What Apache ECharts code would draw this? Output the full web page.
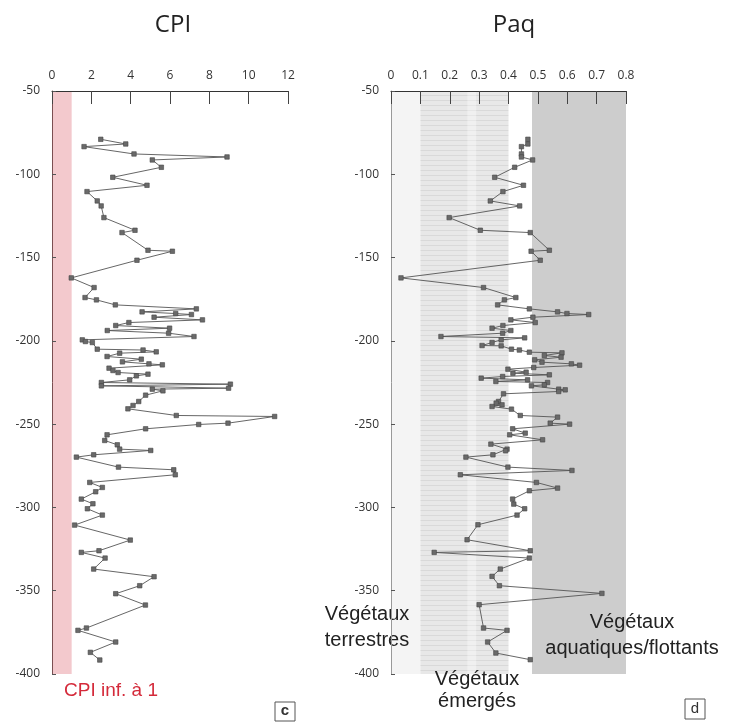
<!DOCTYPE html>
<html>
<head>
<meta charset="utf-8">
<script src="https://cdn.jsdelivr.net/npm/echarts/dist/echarts.min.js"></script>
<style>html,body{margin:0;padding:0;background:#fff}#c{width:740px;height:724px}</style>
</head>
<body>
<div id="c"></div>
<script>
// ---- data ----
const cpiDepth = [-79,-81.8,-83.4,-87.8,-89.6,-91.4,-95.8,-101.8,-106.6,-110.4,-116,-119,-126,-133.6,-135,-145.6,-146.2,-151.6,-162.2,-168,-174,-175.4,-178.4,-180.8,-182.6,-183.6,-184.2,-185.8,-187.4,-189,-190.8,-192.4,-193.8,-195.4,-197.4,-199.4,-200.4,-201,-205,-205.5,-206.6,-207.4,-209.4,-211,-212.6,-213.8,-214.4,-216.4,-217.8,-219,-220,-221,-223.4,-225,-226,-227,-228.4,-229,-230,-232.6,-236.4,-238.8,-240.8,-244.8,-245.4,-249.4,-250.2,-252.8,-256.4,-259.8,-262.4,-265,-265.8,-268.4,-269.8,-275.8,-277.4,-280.4,-285,-288,-290.6,-295,-297.8,-300.8,-304.6,-310.6,-319.6,-326,-327,-330.4,-337,-341.6,-347,-351.8,-358.6,-372.4,-373.8,-380.8,-387,-391.6];
const cpiValue = [2.48,3.75,1.63,4.17,8.9,5.1,5.56,3.09,4.83,1.78,2.3,2.5,2.64,4.22,3.56,4.88,6.12,4.32,0.98,2.14,1.68,2.26,3.22,7.34,4.58,6.29,7.09,5.19,7.65,3.91,3.24,5.98,2.81,5.93,7.22,1.54,1.7,2.05,2.3,4.63,5.3,3.44,2.8,4.54,3.58,4.93,5.61,2.9,3.1,3.36,4.88,4.29,3.95,2.51,9.07,2.51,8.98,5.1,5.64,4.76,4.41,4.12,3.86,6.32,11.32,8.95,7.46,4.76,2.8,2.68,3.32,3.44,5.02,2.12,1.24,3.38,6.19,6.27,1.92,2.56,2.22,1.49,2.08,1.8,2.56,1.15,3.98,2.39,1.49,2.7,2.12,5.19,4.46,3.24,4.75,1.75,1.32,3.24,1.95,2.43];
const paqDepth = [-79,-81.8,-83.4,-87.8,-89.6,-91.4,-95.8,-101.8,-106.6,-110.4,-116,-119,-126,-133.6,-135,-145.6,-146.2,-151.6,-162.2,-168,-174,-175.4,-178.4,-180.8,-182.6,-183.6,-184.2,-185.8,-187.4,-189,-190.8,-192.4,-193.8,-195.4,-197.4,-198.2,-199.4,-201,-202.8,-203,-205,-205.5,-206.8,-207.2,-208.8,-209.8,-211.4,-212.8,-213.8,-214.6,-216,-217,-218.8,-219.4,-220.4,-221.4,-222.4,-223.4,-224.4,-225,-226.4,-227,-229,-229.4,-230.4,-231.8,-236.4,-237.4,-238.4,-239.4,-241,-244.8,-245.8,-249.4,-250,-252.8,-255.4,-256.4,-259.4,-262,-265,-266,-268.4,-269.8,-275.8,-277.8,-280.4,-285,-288.4,-290,-295,-298,-300.8,-304.6,-310.4,-319.4,-326,-327,-330.4,-337,-341.4,-347,-351.6,-358.4,-372.4,-373.8,-380.8,-387.4,-391.4];
const paqValue = [0.466,0.466,0.444,0.444,0.444,0.482,0.421,0.353,0.451,0.381,0.338,0.438,0.198,0.304,0.474,0.539,0.477,0.508,0.034,0.315,0.425,0.386,0.363,0.471,0.567,0.599,0.673,0.483,0.408,0.491,0.381,0.344,0.408,0.38,0.17,0.455,0.375,0.344,0.31,0.375,0.41,0.437,0.471,0.582,0.522,0.579,0.489,0.514,0.614,0.642,0.486,0.398,0.46,0.415,0.539,0.38,0.307,0.465,0.357,0.533,0.522,0.478,0.571,0.593,0.571,0.383,0.366,0.358,0.378,0.344,0.41,0.44,0.567,0.542,0.608,0.414,0.457,0.404,0.516,0.34,0.395,0.39,0.347,0.255,0.398,0.616,0.236,0.495,0.567,0.471,0.414,0.418,0.455,0.429,0.296,0.259,0.474,0.147,0.471,0.372,0.344,0.369,0.718,0.3,0.315,0.395,0.329,0.357,0.474];
const depthTicks = [-400,-50];
const cpiTicks = [0,12];
const paqTicks = [0,0.8];
const cpiThreshold = [0,1];
const paqZones = [[0,0.1],[0.1,0.4],[0.48,0.8]];

// ---- pattern for "émergés" zone ----
const pc = document.createElement('canvas');
pc.width = 8; pc.height = 5;
const pctx = pc.getContext('2d');
pctx.fillStyle = '#e8e8e8'; pctx.fillRect(0,0,8,5);
pctx.fillStyle = '#d9d9d9'; pctx.fillRect(0,0,8,1);

const chart = echarts.init(document.getElementById('c'), null, {renderer:'canvas'});
const lblFont = {fontFamily:'Open Sans', fontSize:12, color:'#333'};
function xAx(idx, mn, mx, iv){
  return {gridIndex:idx, type:'value', position:'top', min:mn, max:mx, interval:iv, z:10,
    axisLine:{show:true, lineStyle:{color:'#333', width:1}},
    axisTick:{show:true, inside:true, length:13, lineStyle:{color:'#444'}},
    axisLabel:Object.assign({margin:9}, lblFont),
    splitLine:{show:false}};
}
function yAx(idx, col){
  return {gridIndex:idx, type:'value', min:depthTicks[0], max:depthTicks[1], interval:50, z:10,
    axisLine:{show:true, lineStyle:{color:col, width:1}},
    axisTick:{show:true, inside:true, length:4, lineStyle:{color:'#555'}},
    axisLabel:Object.assign({margin:12}, lblFont),
    splitLine:{show:false}};
}
const lineStyle = {color:'#555', width:0.9};
const itemStyle = {color:'#6a6a6a', borderColor:'#444', borderWidth:0.6};

chart.setOption({
  animation:false,
  grid:[
    {left:52, top:91, width:236, height:583},
    {left:391, top:91, width:235, height:583}
  ],
  xAxis:[xAx(0,cpiTicks[0],cpiTicks[1],2), xAx(1,paqTicks[0],paqTicks[1],0.1)],
  yAxis:[yAx(0,'#7a4f52'), yAx(1,'#999')],
  series:[
    {type:'line', xAxisIndex:0, yAxisIndex:0,
     data:cpiDepth.map((d,i)=>[cpiValue[i], d]),
     symbol:'rect', symbolSize:4.5, lineStyle, itemStyle,
     markArea:{silent:true, itemStyle:{color:'#f3c9cd'},
       data:[[{xAxis:cpiThreshold[0], yAxis:depthTicks[1]},{xAxis:cpiThreshold[1], yAxis:depthTicks[0]}]]}},
    {type:'line', xAxisIndex:1, yAxisIndex:1,
     data:paqDepth.map((d,i)=>[paqValue[i], d]),
     symbol:'rect', symbolSize:4.5, lineStyle, itemStyle,
     markArea:{silent:true,
       data:[
         [{xAxis:paqZones[0][0], yAxis:depthTicks[1], itemStyle:{color:'#f4f4f4'}},{xAxis:paqZones[0][1], yAxis:depthTicks[0]}],
         [{xAxis:paqZones[1][0], yAxis:depthTicks[1], itemStyle:{color:{image:pc, repeat:'repeat'}}},{xAxis:paqZones[1][1], yAxis:depthTicks[0]}],
         [{xAxis:0.26, yAxis:depthTicks[1], itemStyle:{color:'rgba(255,255,255,0.35)'}},{xAxis:0.29, yAxis:depthTicks[0]}],
         [{xAxis:paqZones[2][0], yAxis:depthTicks[1], itemStyle:{color:'#cdcdcd'}},{xAxis:paqZones[2][1], yAxis:depthTicks[0]}]
       ]}}
  ],
  graphic:[
    {type:'text', style:{text:'CPI', x:173, y:25, textAlign:'center', textVerticalAlign:'middle', verticalAlign:'middle', font:'24px "Open Sans"', fill:'#222'}},
    {type:'text', style:{text:'Paq', x:514, y:25, textAlign:'center', textVerticalAlign:'middle', verticalAlign:'middle', font:'24px "Open Sans"', fill:'#222'}},
    {type:'text', z:10, style:{text:'Végétaux\nterrestres', x:367, y:627, textAlign:'center', textVerticalAlign:'middle', verticalAlign:'middle', font:'20px "Liberation Sans"', lineHeight:26, fill:'#222'}},
    {type:'text', z:10, style:{text:'Végétaux\naquatiques/flottants', x:632, y:635, textAlign:'center', textVerticalAlign:'middle', verticalAlign:'middle', font:'20px "Liberation Sans"', lineHeight:26, fill:'#222'}},
    {type:'text', z:10, style:{text:'Végétaux\némergés', x:477, y:690, textAlign:'center', textVerticalAlign:'middle', verticalAlign:'middle', font:'20px "Liberation Sans"', lineHeight:22, fill:'#222'}},
    {type:'text', z:10, style:{text:'CPI inf. à 1', x:111, y:691, textAlign:'center', textVerticalAlign:'middle', verticalAlign:'middle', font:'19px "Liberation Sans"', fill:'#d42a3a'}},
    {type:'rect', shape:{x:275, y:702, width:20, height:19}, style:{fill:'#fff', stroke:'#555', lineWidth:1}},
    {type:'text', style:{text:'c', x:285, y:711, textAlign:'center', textVerticalAlign:'middle', verticalAlign:'middle', font:'bold 15px "Liberation Sans"', fill:'#333'}},
    {type:'rect', shape:{x:685, y:699, width:20, height:20}, style:{fill:'#fff', stroke:'#555', lineWidth:1}},
    {type:'text', style:{text:'d', x:695, y:709, textAlign:'center', textVerticalAlign:'middle', verticalAlign:'middle', font:'15px "Liberation Sans"', fill:'#333'}}
  ]
});
</script>
</body>
</html>
